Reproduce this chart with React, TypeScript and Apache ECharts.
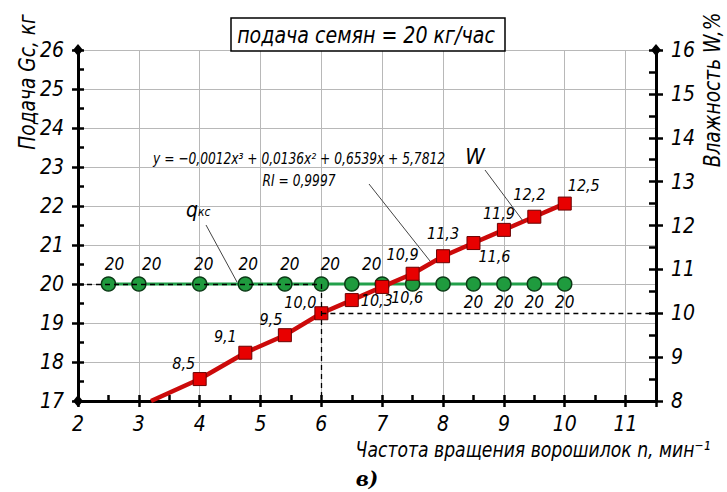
import React, { useEffect, useRef } from 'react';
import * as echarts from 'echarts';

// ---- data ----
const feedX = [2.5, 3, 4, 4.75, 5.4, 6, 6.5, 7, 7.5, 8, 8.5, 9, 9.5, 10];
const feedGc = [20, 20, 20, 20, 20, 20, 20, 20, 20, 20, 20, 20, 20, 20];
const moistX = [3.2, 4, 4.75, 5.4, 6, 6.5, 7, 7.5, 8, 8.5, 9, 9.5, 10];
const moistW = [8.0, 8.5, 9.1, 9.5, 10.0, 10.3, 10.6, 10.9, 11.3, 11.6, 11.9, 12.2, 12.5];
const xTickLabels = ['2', '3', '4', '5', '6', '7', '8', '9', '10', '11'];

// ---- label placement (style only) ----
const feedLabelOffsets: (number[] | null)[] = [
  [6, -20], [13, -20], [4, -20], [3, -20], [5, -20], [9, -20], [20, -20],
  null, null, null,
  [0, 18], [0, 18], [0, 18], [0, 18],
];
const moistLabelOffsets: (number[] | null)[] = [
  null, [-16, -16], [-20, -16], [-14, -16], [-21, -11], [25, 0], [25, 11],
  [-10, -19], [0, -23], [21, 13], [-5, -16], [-5, -22], [19, -18],
];

const FONT = "'DejaVu Sans Condensed', 'DejaVu Sans', 'Noto Sans', sans-serif";
const fmtComma = (v: number) => v.toFixed(1).replace('.', ',');

export default function App() {
  const ref = useRef<HTMLDivElement>(null);
  useEffect(() => {
    if (!ref.current) return;
    const chart = echarts.init(ref.current, undefined, { renderer: 'svg' });
    const tickStyle = { color: '#000', width: 2.5 };
    const axisLabelStyle = { fontFamily: FONT, fontStyle: 'italic' as const, fontSize: 21, color: '#000' };
    const textStyle = (size: number, extra: any = {}) => ({
      fontFamily: FONT, fontStyle: 'italic', fontSize: size, fill: '#000', ...extra,
    });

    chart.setOption({
      animation: false,
      backgroundColor: '#fff',
      grid: { left: 78, right: 71, top: 50, bottom: 91, containLabel: false },
      xAxis: [
        {
          type: 'value', min: 2, max: 11.5, interval: 1, position: 'bottom',
          axisLine: { show: true, onZero: false, lineStyle: { color: '#000', width: 3 } },
          axisTick: { show: true, inside: false, length: 6, lineStyle: tickStyle },
          axisLabel: {
            ...axisLabelStyle, margin: 12,
            formatter: (v: number) => (xTickLabels.includes(String(v)) ? String(v) : ''),
          },
          splitLine: { show: true, lineStyle: { color: '#b8b8b8', width: 1 } },
        },
        {
          type: 'value', min: 2, max: 11.5, interval: 0.5, position: 'bottom',
          axisLine: { show: false, onZero: false },
          axisTick: { show: true, inside: true, length: 6, lineStyle: tickStyle },
          axisLabel: { show: false },
          splitLine: { show: false },
        },
      ],
      yAxis: [
        {
          type: 'value', min: 17, max: 26, interval: 1, position: 'left',
          axisLine: {
            show: true, onZero: false, lineStyle: { color: '#000', width: 3 },
            symbol: ['diamond', 'diamond'], symbolSize: [10, 12],
          },
          axisTick: { show: true, inside: false, length: 6, lineStyle: tickStyle },
          axisLabel: { ...axisLabelStyle, margin: 14 },
          splitLine: { show: true, lineStyle: { color: '#b8b8b8', width: 1 } },
        },
        {
          type: 'value', min: 17, max: 26, interval: 0.5, position: 'left',
          axisLine: { show: false, onZero: false },
          axisTick: { show: true, inside: true, length: 6, lineStyle: tickStyle },
          axisLabel: { show: false },
          splitLine: { show: false },
        },
        {
          type: 'value', min: 8, max: 16, interval: 1, position: 'right',
          axisLine: {
            show: true, onZero: false, lineStyle: { color: '#000', width: 3 },
            symbol: ['none', 'diamond'], symbolSize: [10, 12],
          },
          axisTick: { show: true, inside: false, length: 7, lineStyle: tickStyle },
          axisLabel: { ...axisLabelStyle, margin: 15 },
          splitLine: { show: false },
        },
        {
          type: 'value', min: 8, max: 16, interval: 0.5, position: 'right',
          axisLine: { show: false, onZero: false },
          axisTick: { show: true, inside: true, length: 7, lineStyle: tickStyle },
          axisLabel: { show: false },
          splitLine: { show: false },
        },
      ],
      series: [
        {
          name: 'qкс', type: 'line', xAxisIndex: 0, yAxisIndex: 0,
          symbol: 'circle', symbolSize: 14,
          lineStyle: { color: '#22a04a', width: 3 },
          itemStyle: { color: '#1f9b3e', borderColor: '#0b3a16', borderWidth: 1.5 },
          data: feedX.map((x, i) => {
            const off = feedLabelOffsets[i];
            return {
              value: [x, feedGc[i]],
              label: off
                ? { show: true, position: 'inside', offset: off, formatter: String(feedGc[i]),
                    fontFamily: FONT, fontStyle: 'italic', fontSize: 17, color: '#000' }
                : { show: false },
            };
          }),
          markLine: {
            silent: true, symbol: ['none', 'none'], label: { show: false },
            lineStyle: { type: [5, 4], color: '#000', width: 1.3 },
            data: [
              [{ coord: [2, 20] }, { coord: [6, 20] }],
              [{ coord: [6, 20] }, { coord: [6, 17] }],
            ],
          },
          z: 3,
        },
        {
          name: 'W', type: 'line', xAxisIndex: 0, yAxisIndex: 2,
          symbol: 'rect', symbolSize: 13,
          lineStyle: { color: '#cc0a0a', width: 4.5 },
          itemStyle: { color: '#e80000', borderColor: '#6a0000', borderWidth: 1 },
          data: moistX.map((x, i) => {
            const off = moistLabelOffsets[i];
            return {
              value: [x, moistW[i]],
              symbol: off ? 'rect' : 'none',
              label: off
                ? { show: true, position: 'inside', offset: off, formatter: fmtComma(moistW[i]),
                    fontFamily: FONT, fontStyle: 'italic', fontSize: 16, color: '#000' }
                : { show: false },
            };
          }),
          markLine: {
            silent: true, symbol: ['none', 'none'], label: { show: false },
            lineStyle: { type: [5, 4], color: '#000', width: 1.3 },
            data: [[{ coord: [6, 10] }, { coord: [11.5, 10] }]],
          },
          z: 4,
        },
      ],
      graphic: [
        { type: 'rect', shape: { x: 231, y: 18, width: 274, height: 33 },
          style: { fill: '#fff', stroke: '#000', lineWidth: 1.5 }, z: 100 },
        { type: 'text', x: 366, y: 35, z: 101, scaleX: 0.92,
          style: textStyle(23, { text: 'подача семян = 20 кг/час', textAlign: 'center', textVerticalAlign: 'middle' }) },
        { type: 'text', x: 27, y: 82, rotation: Math.PI / 2, scaleX: 0.9, z: 101,
          style: textStyle(23, { text: 'Подача Gc, кг', textAlign: 'center', textVerticalAlign: 'middle' }) },
        { type: 'text', x: 712, y: 90, rotation: Math.PI / 2, scaleX: 0.9, z: 101,
          style: textStyle(23, { text: 'Влажность W,%', textAlign: 'center', textVerticalAlign: 'middle' }) },
        { type: 'text', x: 533, y: 450, scaleX: 0.87, z: 101,
          style: textStyle(22, { text: 'Частота вращения ворошилок n, мин⁻¹', textAlign: 'center', textVerticalAlign: 'middle' }) },
        { type: 'text', x: 367, y: 479, z: 101,
          style: { text: 'в)', fontFamily: "'DejaVu Serif', 'Liberation Serif', serif", fontStyle: 'italic',
                   fontWeight: 'bold', fontSize: 20, fill: '#000', textAlign: 'center', textVerticalAlign: 'middle' } },
        { type: 'text', x: 299, y: 158, scaleX: 0.85, z: 101,
          style: textStyle(16, { text: 'y = −0,0012x³ + 0,0136x² + 0,6539x + 5,7812', textAlign: 'center', textVerticalAlign: 'middle' }) },
        { type: 'text', x: 299, y: 180, scaleX: 0.85, z: 101,
          style: textStyle(16, { text: 'RI = 0,9997', textAlign: 'center', textVerticalAlign: 'middle' }) },
        { type: 'text', x: 475, y: 156, z: 101,
          style: textStyle(22, { text: 'W', textAlign: 'center', textVerticalAlign: 'middle' }) },
        { type: 'text', x: 192, y: 210, z: 101,
          style: textStyle(21, { text: 'q', textAlign: 'center', textVerticalAlign: 'middle' }) },
        { type: 'text', x: 198, y: 212, z: 101,
          style: textStyle(12, { text: 'кс', textAlign: 'left', textVerticalAlign: 'middle' }) },
        { type: 'line', shape: { x1: 369, y1: 184, x2: 430, y2: 261 }, style: { stroke: '#444', lineWidth: 1 }, z: 101 },
        { type: 'line', shape: { x1: 485, y1: 170, x2: 523, y2: 221 }, style: { stroke: '#444', lineWidth: 1 }, z: 101 },
        { type: 'line', shape: { x1: 206, y1: 225, x2: 237, y2: 282 }, style: { stroke: '#444', lineWidth: 1 }, z: 101 },
      ],
    });
    return () => chart.dispose();
  }, []);
  return <div ref={ref} style={{ position: 'fixed', left: 0, top: 0, width: 727, height: 492 }} />;
}
